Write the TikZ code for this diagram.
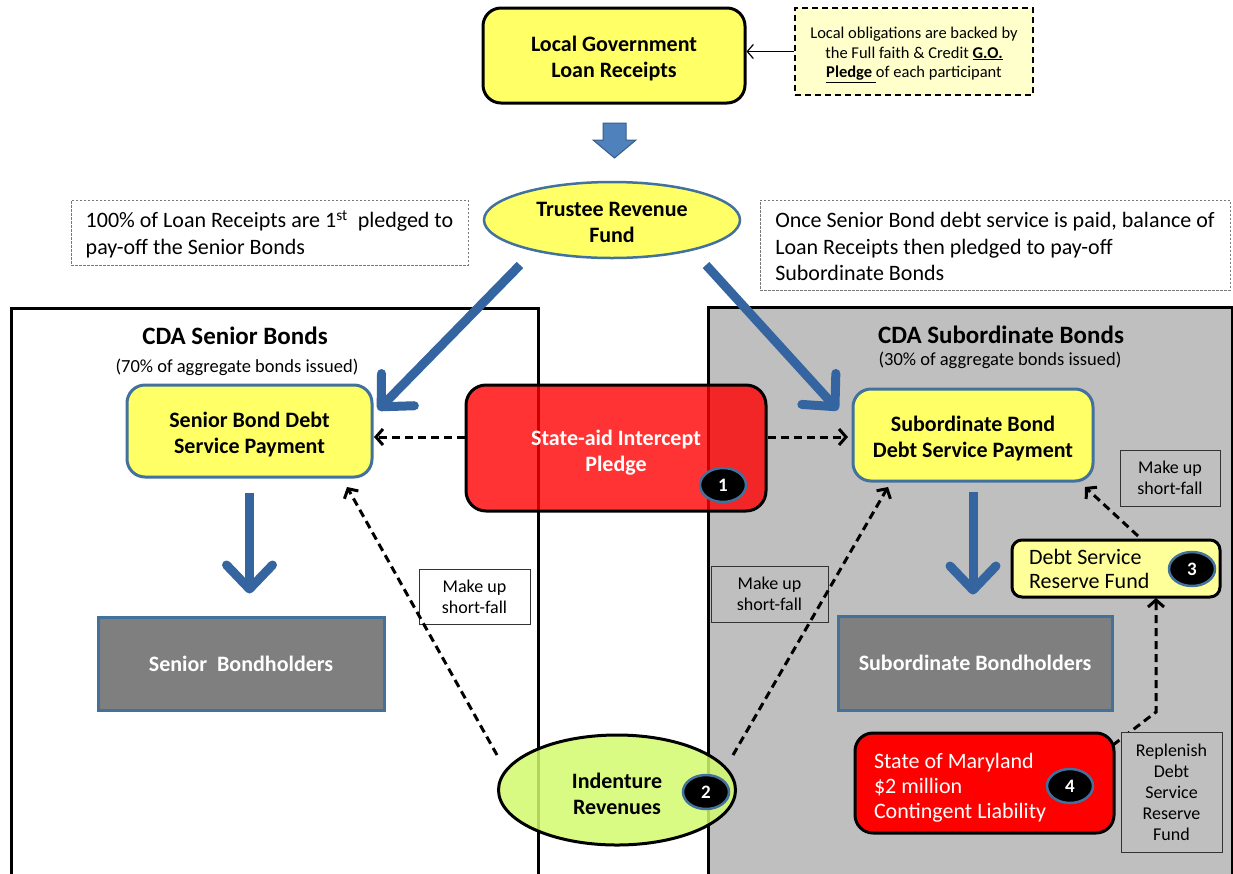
\documentclass[tikz,border=0pt]{standalone}
\usepackage{fontspec}
\setmainfont{Carlito}
\usetikzlibrary{arrows.meta,shapes.geometric}
\definecolor{yel}{RGB}{255,255,102}
\definecolor{lyel}{RGB}{255,255,153}
\definecolor{notey}{RGB}{255,255,204}
\definecolor{bord}{RGB}{65,113,156}
\definecolor{flow}{RGB}{52,101,160}
\definecolor{panelg}{RGB}{191,191,191}
\definecolor{holder}{RGB}{127,127,127}
\definecolor{lgreen}{RGB}{210,250,110}
\definecolor{acc}{RGB}{79,129,189}
\definecolor{accd}{RGB}{56,93,138}
\definecolor{notegray}{RGB}{120,120,120}
\newcommand\upst[1]{\rule{0pt}{#1}}
\newcommand\nsp{\spaceskip=0pt\xspaceskip=0pt\relax}
\begin{document}
\begin{tikzpicture}[x=1pt,y=-1pt,
  bigb/.style={font=\fontsize{22}{26}\selectfont\bfseries},
  reg/.style={font=\fontsize{22}{26.5}\selectfont},
  small/.style={font=\fontsize{18}{21}\selectfont},
  ybox/.style={draw=bord, line width=3pt, fill=yel, rounded corners=18pt, align=center, bigb, inner sep=0pt},
  hbox/.style={draw=bord, line width=3pt, fill=holder, align=center, bigb, text=white, inner sep=0pt},
  panel/.style={draw=black, line width=3pt, anchor=north west, inner sep=0pt},
  mubox/.style={draw=black!80, line width=1pt, align=center, small, inner sep=0pt},
  numc/.style={ellipse, draw=bord, line width=2.5pt, fill=black, text=white, font=\fontsize{19}{22}\selectfont\bfseries, minimum width=46pt, minimum height=34pt, inner sep=0pt},
  flowarrow/.style={draw=flow, line width=9pt, -{Straight Barb[length=24pt,width=46pt,line join=round,line cap=round]}},
  dasharrow/.style={draw=black, line width=3pt, dash pattern=on 8pt off 5pt, -{Straight Barb[length=7pt,width=16pt]}},
]
\useasboundingbox (0,0) rectangle (1233,873);
\clip (0,0) rectangle (1233,873);

% panels
\node[panel, fill=white, minimum width=527pt, minimum height=580pt] (lp) at (10,307) {};
\node[panel, fill=panelg, minimum width=524pt, minimum height=580pt] (rp) at (707,306) {};
\node[font=\fontsize{25}{28}\selectfont\bfseries] (lpt) at (235,336) {CDA Senior Bonds};
\node[font=\fontsize{18.5}{21}\selectfont] (lps) at (237,367) {(70\% of aggregate bonds issued)};
\node[font=\fontsize{25}{28}\selectfont\bfseries] (rpt) at (1001,335) {CDA Subordinate Bonds};
\node[font=\fontsize{18.5}{21}\selectfont] (rps) at (1000,360) {(30\% of aggregate bonds issued)};

% top
\node[draw=black, line width=3pt, fill=yel, rounded corners=18pt, align=center, bigb, minimum width=262pt, minimum height=95pt, inner sep=0pt] (lglr) at (614,55.5) {\upst{22pt}Local Government\\Loan Receipts};
\node[draw=black, line width=2.5pt, dash pattern=on 6pt off 4pt, fill=notey, align=center, font=\fontsize{16.5}{19.5}\selectfont, minimum width=238pt, minimum height=87pt, inner sep=0pt] (tnote) at (914,51.5) {\upst{18pt}Local obligations are backed by\\the Full faith \& Credit \underline{\textbf{G.O.}}\\\underline{\textbf{Pledge }}of each participant};
\draw[line width=1.2pt, -{Straight Barb[length=6pt,width=14pt]}] (tnote.west) -- (tnote.west -| lglr.east);

% block arrow
\draw[fill=acc, draw=accd, line width=1pt] (603,123) -- (626,123) -- (626,140) -- (636,140) -- (614.5,158) -- (593,140) -- (603,140) -- cycle;

% trustee
\node[ellipse, draw=bord, line width=2.5pt, fill=yel, align=center, bigb, minimum width=256pt, minimum height=76pt, inner sep=0pt] (trf) at (612,220) {\upst{19pt}Trustee Revenue\\Fund};

% notes
\node[draw=notegray, line width=0.8pt, dash pattern=on 2.5pt off 1.5pt, align=left, reg, minimum width=397pt, minimum height=65pt, inner sep=0pt] (lnote) at (269.5,232.5) {\upst{21pt}100\% of Loan Receipts are 1\textsuperscript{st}\ \ pledged to\\pay-off the Senior Bonds};
\node[draw=notegray, line width=0.8pt, dash pattern=on 2.5pt off 1.5pt, align=left, reg, minimum width=470pt, minimum height=90pt, inner sep=0pt] (rnote) at (995,245) {\upst{19pt}Once Senior Bond debt service is paid, balance of\\Loan Receipts then pledged to pay-off\\Subordinate Bonds};

% debt service payment boxes
\node[ybox, minimum width=245pt, minimum height=92pt] (sdsp) at (249.5,431) {\upst{23pt}Senior Bond Debt\\Service Payment};
\node[ybox, minimum width=240pt, minimum height=92pt] (subdsp) at (973,435) {\upst{23pt}Subordinate Bond\\Debt Service Payment};

% bondholders
\node[hbox, minimum width=286pt, minimum height=93pt] (sbh) at (241,663.5) {Senior\ \ Bondholders};
\node[hbox, minimum width=274pt, minimum height=94pt] (subbh) at (975,663) {Subordinate Bondholders};

% flow arrows
\coordinate (fl1s) at (520,265);
\coordinate (fl1e) at (378,410);
\coordinate (fr1s) at (706,265);
\coordinate (fr1e) at (838,410);
\draw[flowarrow] (fl1s) -- (fl1e);
\draw[flowarrow] (fr1s) -- (fr1e);
\draw[flowarrow] ([yshift=-14pt]sdsp.south) -- ([yshift=22pt]sbh.north -| sdsp.south);
\draw[flowarrow] ([yshift=-9pt]subdsp.south) -- ([yshift=20pt]subbh.north -| subdsp.south);

% state-aid intercept
\node[draw=black, line width=3pt, fill=red, fill opacity=0.8, text opacity=1, rounded corners=20pt, align=center, bigb, text=white, minimum width=300pt, minimum height=126pt, inner sep=0pt] (said) at (616,448) {\upst{24pt}State-aid Intercept\\Pledge};
\node[numc] (n1) at (723,485) {1};
\draw[dasharrow] (said.west |- 0,437) -- (374,437);
\draw[dasharrow] (said.east |- 0,437) -- (848,437);

% make up boxes
\node[mubox, fill=white, minimum width=111pt, minimum height=55pt] (mu1) at (474.5,596.5) {Make up\\short-fall};
\node[mubox, fill=panelg, minimum width=117pt, minimum height=56pt] (mu2) at (769.5,594) {Make up\\short-fall};
\node[mubox, fill=panelg, minimum width=100pt, minimum height=56pt] (mu3) at (1170,478) {Make up\\short-fall};

% indenture revenues
\node[ellipse, draw=black, line width=3pt, fill=lgreen, fill opacity=0.85, text opacity=1, align=center, bigb, minimum width=237pt, minimum height=110pt, inner sep=0pt] (ind) at (617,790) {\upst{23pt}Indenture\\Revenues};
\node[numc] (n2) at (706,792) {2};
\coordinate (indl) at (497,755);
\coordinate (indr) at (733,755);
\coordinate (sdspin) at (347,487);
\coordinate (subin) at (888,487);
\draw[dasharrow] (indl) -- (sdspin);
\draw[dasharrow] (indr) -- (subin);

% debt service reserve fund
\node[draw=black, line width=3pt, fill=lyel, rounded corners=10pt, align=left, font=\fontsize{22}{24}\selectfont, text width=174pt, inner xsep=17pt, inner ysep=0pt, minimum height=57pt] (dsrf) at (1116,568.5) {\nsp Debt Service\\Reserve Fund};
\node[numc] (n3) at (1192,569) {3};
\coordinate (dsrfo) at (1138,536);
\coordinate (subin2) at (1085,487);
\draw[dasharrow] (dsrfo) -- (subin2);

% state of maryland
\node[draw=black, line width=3pt, fill=red, rounded corners=18pt, align=left, text=white, font=\fontsize{22}{25}\selectfont, text width=221pt, inner xsep=19pt, inner ysep=0pt, minimum height=100pt] (md) at (984.5,783) {\nsp\upst{25pt}State of Maryland\\\$2 million\\Contingent Liability};
\node[numc] (n4) at (1070,786) {4};
\coordinate (mdo) at (1113,745);
\coordinate (bend) at (1156,712);
\coordinate (dsrfin) at (1156,598);
\draw[dasharrow] (mdo) -- (bend) -- (dsrfin);

\node[mubox, fill=panelg, minimum width=101pt, minimum height=120pt] (repl) at (1171.5,792) {Replenish\\Debt\\Service\\Reserve\\Fund};
\end{tikzpicture}
\end{document}
